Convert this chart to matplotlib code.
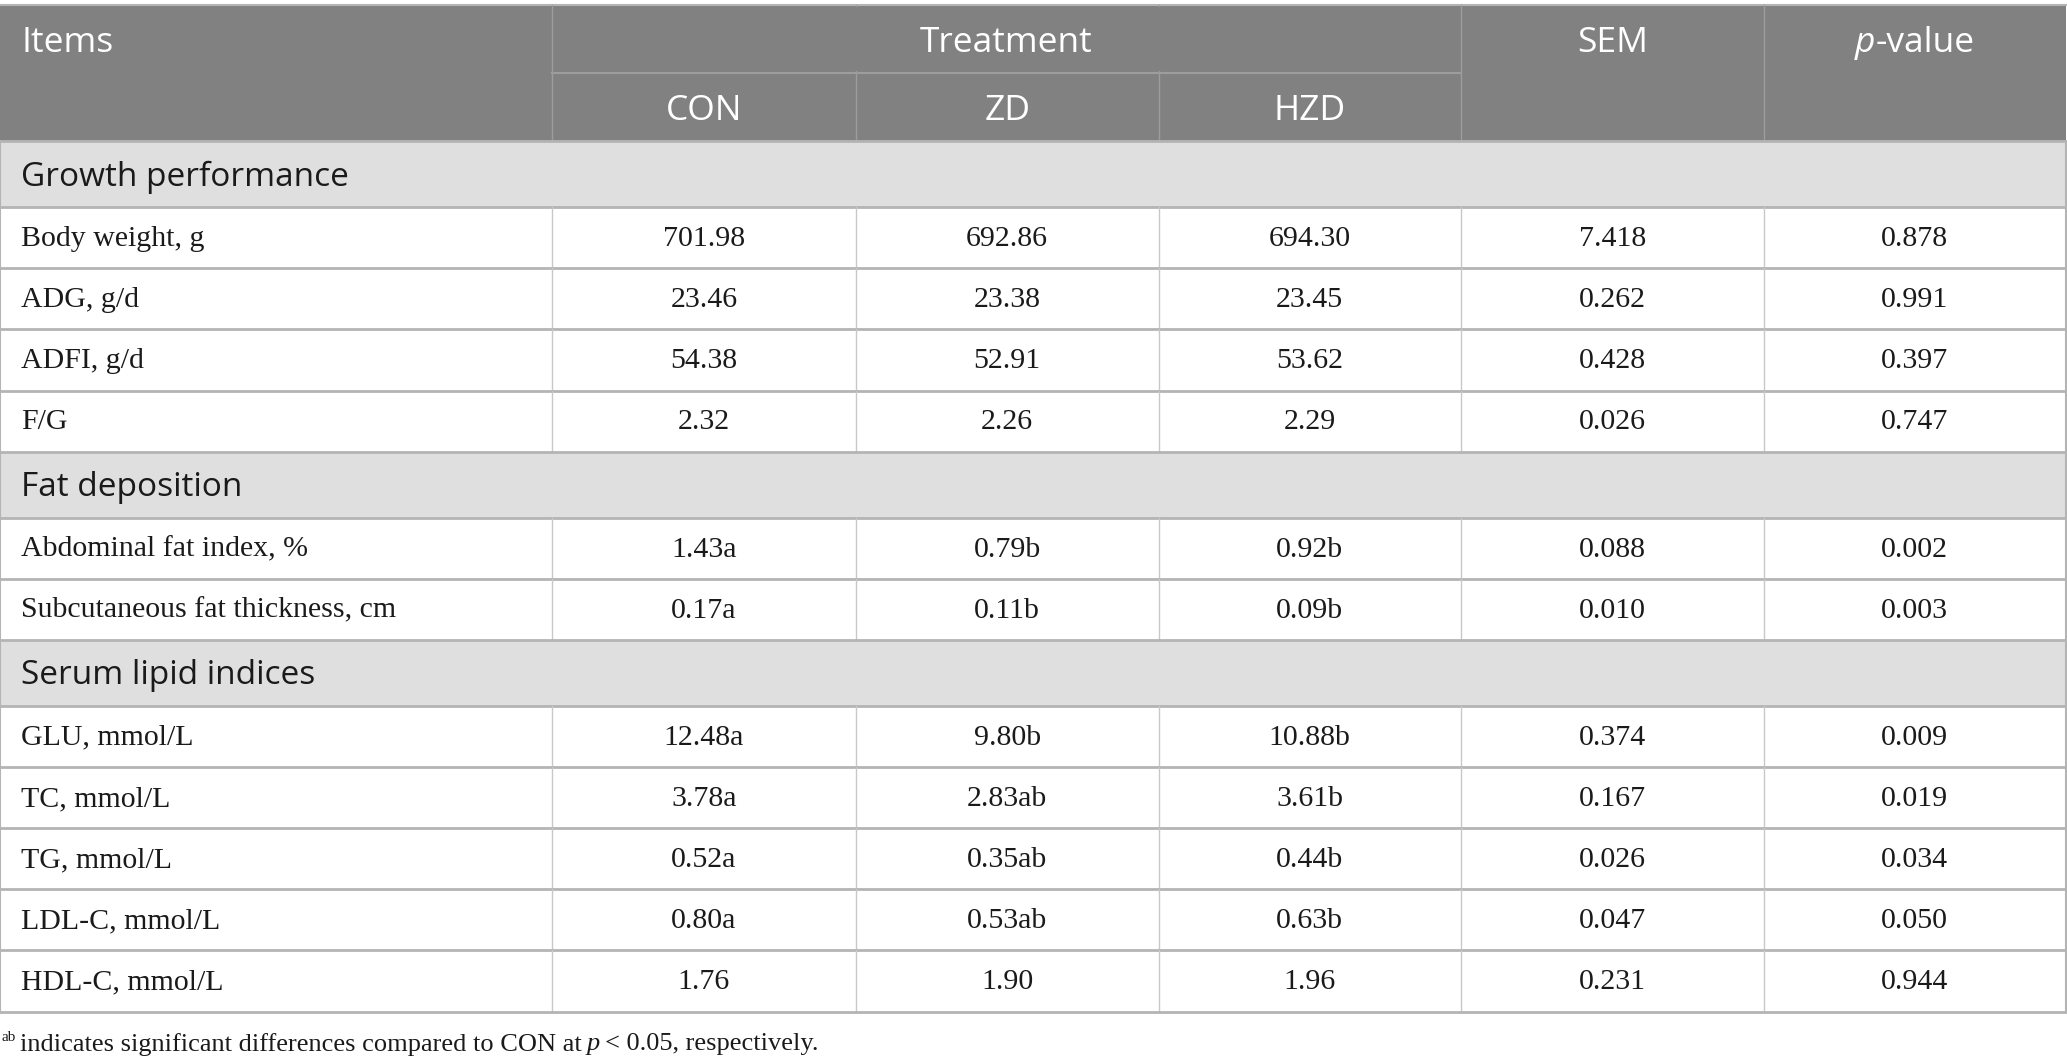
import matplotlib
matplotlib.use("Agg")
import matplotlib.pyplot as plt
from matplotlib.patches import Rectangle

# Table content
treatments = ["CON", "ZD", "HZD"]
sections = ["Growth performance", "Fat deposition", "Serum lipid indices"]
section_items = [
    ["Body weight, g", "ADG, g/d", "ADFI, g/d", "F/G"],
    ["Abdominal fat index, %", "Subcutaneous fat thickness, cm"],
    ["GLU, mmol/L", "TC, mmol/L", "TG, mmol/L", "LDL-C, mmol/L", "HDL-C, mmol/L"],
]
con_vals = ["701.98", "23.46", "54.38", "2.32", "1.43a", "0.17a",
            "12.48a", "3.78a", "0.52a", "0.80a", "1.76"]
zd_vals = ["692.86", "23.38", "52.91", "2.26", "0.79b", "0.11b",
           "9.80b", "2.83ab", "0.35ab", "0.53ab", "1.90"]
hzd_vals = ["694.30", "23.45", "53.62", "2.29", "0.92b", "0.09b",
            "10.88b", "3.61b", "0.44b", "0.63b", "1.96"]
sem_vals = ["7.418", "0.262", "0.428", "0.026", "0.088", "0.010",
            "0.374", "0.167", "0.026", "0.047", "0.231"]
p_vals = ["0.878", "0.991", "0.397", "0.747", "0.002", "0.003",
          "0.009", "0.019", "0.034", "0.050", "0.944"]
foot_parts = [("indicates significant differences compared to CON at", "normal"),
              ("p", "italic"), ("< 0.05, respectively.", "normal")]

# Layout (in reference pixel units, 1568 x 806 canvas)
W, H = 1568, 806
col_x = [0, 419, 649, 879, 1108, 1338, 1567]
top, head_mid, head_bot = 4, 55, 107
band_h, row_h = 50, 46.3

HEAD_BG = "#808180"
BAND_BG = "#e0dfe0"
ROW_LINE = "#b4b4b4"
COL_LINE = "#c8c8c8"
HEAD_LINE = "#9c9d9c"
INK = "#1a1a1a"

sans = "Open Sans"
serif = "Liberation Serif"
fs_head = 25.5
fs_sec = 24
fs_body = 21.5
fs_foot = 19

fig = plt.figure(figsize=(20.67, 10.64), dpi=100)
ax = fig.add_axes([0, 0, 1, 1])
ax.set_xlim(0, W)
ax.set_ylim(H, 0)
ax.axis("off")
renderer = fig.canvas.get_renderer()
px_per_unit = 2067 / W


def text_width(t):
    return t.get_window_extent(renderer).width / px_per_unit


def draw_parts(x, y, parts, gap, center=False, **kw):
    # lay out text pieces with different styles side by side
    texts = []
    for s, style in parts:
        texts.append(ax.text(x, y, s, fontstyle=style, va="center", **kw))
    widths = [text_width(t) for t in texts]
    total = sum(widths) + gap * (len(texts) - 1)
    cx = x - total / 2 if center else x
    for t, w in zip(texts, widths):
        t.set_x(cx)
        cx += w + gap


# header
ax.add_patch(Rectangle((0, top), col_x[-1], head_bot - top, color=HEAD_BG, lw=0))
ax.plot([0, col_x[-1]], [top, top], color=ROW_LINE, lw=1.5)
for x in col_x[1:-1]:
    ax.plot([x, x], [top, head_bot], color=HEAD_LINE, lw=1)
ax.plot([col_x[1], col_x[4]], [head_mid, head_mid], color=HEAD_LINE, lw=1.5)
# hide the treatment separators above the sub-header line
ax.add_patch(Rectangle((col_x[1] + 1, top + 1), col_x[4] - col_x[1] - 2, head_mid - top - 2,
                       color=HEAD_BG, lw=0, zorder=3))

hy1 = (top + head_mid) / 2 + 3
hy2 = (head_mid + head_bot) / 2 + 3
hkw = dict(color="white", fontsize=fs_head, family=sans, zorder=4)
ax.text(16, hy1, "Items", va="center", **hkw)
ax.text((col_x[1] + col_x[4]) / 2, hy1, "Treatment", ha="center", va="center", **hkw)
for i, t in enumerate(treatments):
    ax.text((col_x[i + 1] + col_x[i + 2]) / 2, hy2, t, ha="center", va="center", **hkw)
ax.text((col_x[4] + col_x[5]) / 2, hy1, "SEM", ha="center", va="center", **hkw)
draw_parts((col_x[5] + col_x[6]) / 2, hy1, [("p", "italic"), ("-value", "normal")], 0.5,
           center=True, **hkw)

# body
y = head_bot
k = 0
for sec, items in zip(sections, section_items):
    ax.add_patch(Rectangle((0, y), col_x[-1], band_h, color=BAND_BG, lw=0))
    ax.plot([0, col_x[-1]], [y, y], color=ROW_LINE, lw=2)
    ax.plot([0, 0], [y, y + band_h], color=ROW_LINE, lw=1.5)
    ax.plot([col_x[-1], col_x[-1]], [y, y + band_h], color=ROW_LINE, lw=1.5)
    ax.text(16, y + band_h / 2 + 2, sec, color=INK, fontsize=fs_sec, family=sans, va="center")
    y += band_h
    for item in items:
        ax.plot([0, col_x[-1]], [y, y], color=ROW_LINE, lw=2)
        for x in col_x:
            inner = 0 < x < col_x[-1]
            ax.plot([x, x], [y, y + row_h], color=COL_LINE if inner else ROW_LINE,
                    lw=1 if inner else 1.5)
        cy = y + row_h / 2 + 1
        ax.text(16, cy, item, color=INK, fontsize=fs_body, family=serif, va="center")
        row = [con_vals[k], zd_vals[k], hzd_vals[k], sem_vals[k], p_vals[k]]
        for j, v in enumerate(row):
            ax.text((col_x[j + 1] + col_x[j + 2]) / 2, cy, v, color=INK,
                    fontsize=fs_body, family=serif, ha="center", va="center")
        y += row_h
        k += 1
ax.plot([0, col_x[-1]], [y, y], color=ROW_LINE, lw=2)

# footnote
ax.text(1, 786, "ab", color=INK, fontsize=fs_foot * 0.58, family=serif, va="center")
draw_parts(15, 791, foot_parts, 4, color=INK, fontsize=fs_foot, family=serif)

fig.savefig("out.png", dpi=100)
